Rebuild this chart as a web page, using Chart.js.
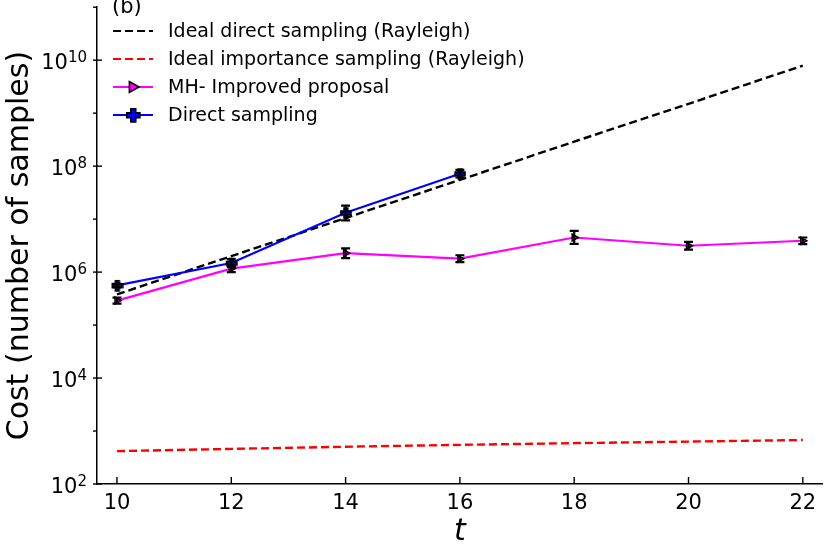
<!DOCTYPE html>
<html>
<head>
<meta charset="UTF-8">
<title>Cost vs t</title>
<script src="https://cdn.jsdelivr.net/npm/chart.js"></script>
<style>
    html, body { margin: 0; padding: 0; background: #fff; }
    canvas { display: block; }
</style>
</head>
<body>
<canvas id="chart" width="830" height="554"></canvas>
<script>
// valores
const tValues = [10, 12, 14, 16, 18, 20, 22];
const idealDirect = [3.8e5, 2.0e6, 1.05e7, 5.5e7, 2.9e8, 1.5e9, 7.9e9];
const idealImportance = [417, 460, 505, 548, 590, 632, 676];
const mhImproved = [2.9e5, 1.16e6, 2.28e6, 1.79e6, 4.5e6, 3.14e6, 3.9e6];
const mhLow = [2.55e5, 1.0e6, 1.84e6, 1.54e6, 3.4e6, 2.65e6, 3.36e6];
const mhHigh = [3.3e5, 1.35e6, 2.8e6, 2.08e6, 6.0e6, 3.72e6, 4.5e6];
const directT = [10, 12, 14, 16];
const directSampling = [5.6e5, 1.48e6, 1.32e7, 7.2e7];
const directLow = [5.2e5, 1.25e6, 9.5e6, 6.1e7];
const directHigh = [6.0e5, 1.75e6, 1.8e7, 8.5e7];
const xTicks = [10, 12, 14, 16, 18, 20, 22];
const yExponents = [2, 3, 4, 5, 6, 7, 8, 9, 10, 11];
const seriesNames = [
    'Ideal direct sampling (Rayleigh)',
    'Ideal importance sampling (Rayleigh)',
    'MH- Improved proposal',
    'Direct sampling'
];

Chart.defaults.font.family = "'DejaVu Sans', sans-serif";
Chart.defaults.color = '#000';

// marcador "P" de matplotlib (cruz rellena con borde negro)
function makePlus(size, lw) {
    const c = document.createElement('canvas');
    const s = size + lw * 2;
    c.width = s; c.height = s;
    const g = c.getContext('2d');
    const a = size * 0.18, h = size / 2, m = s / 2;
    g.beginPath();
    g.moveTo(m - a, m - h); g.lineTo(m + a, m - h); g.lineTo(m + a, m - a);
    g.lineTo(m + h, m - a); g.lineTo(m + h, m + a); g.lineTo(m + a, m + a);
    g.lineTo(m + a, m + h); g.lineTo(m - a, m + h); g.lineTo(m - a, m + a);
    g.lineTo(m - h, m + a); g.lineTo(m - h, m - a); g.lineTo(m - a, m - a);
    g.closePath();
    g.fillStyle = '#0000ff';
    g.fill();
    g.lineWidth = lw;
    g.strokeStyle = '#000';
    g.stroke();
    return c;
}
const plusSmall = makePlus(10, 1.8);
const plusLegend = makePlus(13, 1.8);

function triangleRight(ctx, x, y, r) {
    ctx.beginPath();
    ctx.moveTo(x + r, y);
    ctx.lineTo(x - r * 0.6, y - r * 0.9);
    ctx.lineTo(x - r * 0.6, y + r * 0.9);
    ctx.closePath();
    ctx.fillStyle = '#ff00ff';
    ctx.fill();
    ctx.lineWidth = 1.6;
    ctx.strokeStyle = '#000';
    ctx.stroke();
}

// barras de error, marcas de los ejes, etiquetas 10^n y leyenda
const extrasPlugin = {
    id: 'extras',
    afterDatasetsDraw(chart) {
        const ctx = chart.ctx;
        const xs = chart.scales.x, ys = chart.scales.y;
        ctx.save();
        ctx.strokeStyle = '#000';
        ctx.lineWidth = 2.2;
        const bars = [[tValues, mhLow, mhHigh], [directT, directLow, directHigh]];
        bars.forEach(([tt, lo, hi]) => {
            tt.forEach((t, i) => {
                const x = xs.getPixelForValue(t);
                const y1 = ys.getPixelForValue(lo[i]);
                const y2 = ys.getPixelForValue(hi[i]);
                ctx.beginPath();
                ctx.moveTo(x, y1); ctx.lineTo(x, y2);
                ctx.moveTo(x - 4.5, y1); ctx.lineTo(x + 4.5, y1);
                ctx.moveTo(x - 4.5, y2); ctx.lineTo(x + 4.5, y2);
                ctx.stroke();
            });
        });
        ctx.restore();
    },
    afterDraw(chart) {
        const ctx = chart.ctx;
        const xs = chart.scales.x, ys = chart.scales.y;
        const area = chart.chartArea;
        ctx.save();
        ctx.strokeStyle = '#000';
        ctx.lineWidth = 1.4;
        // marcas del eje x hacia dentro
        xTicks.forEach(v => {
            const x = xs.getPixelForValue(v);
            ctx.beginPath();
            ctx.moveTo(x, area.bottom); ctx.lineTo(x, area.bottom - 7);
            ctx.stroke();
        });
        // marcas del eje y
        yExponents.forEach(e => {
            const y = ys.getPixelForValue(Math.pow(10, e));
            ctx.beginPath();
            if (e % 2 === 0) {
                ctx.moveTo(area.left - 4, y); ctx.lineTo(area.left + 5, y);
            } else {
                ctx.moveTo(area.left - 4, y); ctx.lineTo(area.left, y);
            }
            ctx.stroke();
        });
        // etiquetas 10^n
        ctx.fillStyle = '#000';
        ctx.textBaseline = 'alphabetic';
        yExponents.filter(e => e % 2 === 0).forEach(e => {
            const y = ys.getPixelForValue(Math.pow(10, e));
            ctx.font = "21px 'DejaVu Sans'";
            const wb = ctx.measureText('10').width;
            ctx.font = "15px 'DejaVu Sans'";
            const we = ctx.measureText(String(e)).width;
            const x0 = area.left - 10 - wb - we;
            ctx.font = "21px 'DejaVu Sans'";
            ctx.fillText('10', x0, y + 9);
            ctx.font = "15px 'DejaVu Sans'";
            ctx.fillText(String(e), x0 + wb, y + 2);
        });
        // (b)
        ctx.font = "21px 'DejaVu Sans'";
        ctx.fillText('(b)', 112, 13);
        // leyenda
        const rows = [31, 59, 87, 115];
        const lx0 = 113, lx1 = 153, tx = 168;
        chart.data.datasets.forEach((ds, i) => {
            const y = rows[i];
            ctx.beginPath();
            ctx.setLineDash(ds.borderDash || []);
            ctx.strokeStyle = ds.borderColor;
            ctx.lineWidth = 2;
            ctx.moveTo(lx0, y); ctx.lineTo(lx1, y);
            ctx.stroke();
            ctx.setLineDash([]);
            if (ds.legendMarker === 'tri') triangleRight(ctx, 133, y, 6);
            if (ds.legendMarker === 'plus') ctx.drawImage(plusLegend, 133 - plusLegend.width / 2, y - plusLegend.height / 2);
            ctx.fillStyle = '#000';
            ctx.font = "19px 'DejaVu Sans'";
            ctx.textBaseline = 'middle';
            ctx.fillText(seriesNames[i], tx, y + 1);
        });
        ctx.restore();
    }
};

new Chart(document.getElementById('chart'), {
    type: 'line',
    data: {
        datasets: [
            {
                label: seriesNames[0],
                data: tValues.map((t, i) => ({ x: t, y: idealDirect[i] })),
                borderColor: '#000000',
                borderDash: [8, 4],
                borderWidth: 2.4,
                pointRadius: 0,
                order: 2
            },
            {
                label: seriesNames[1],
                data: tValues.map((t, i) => ({ x: t, y: idealImportance[i] })),
                borderColor: '#ff0000',
                borderDash: [8, 4],
                borderWidth: 2.4,
                pointRadius: 0,
                order: 3
            },
            {
                label: seriesNames[2],
                data: tValues.map((t, i) => ({ x: t, y: mhImproved[i] })),
                borderColor: '#ff00ff',
                borderWidth: 2.2,
                pointStyle: 'triangle',
                pointRotation: 90,
                pointRadius: 4,
                pointBackgroundColor: '#ff00ff',
                pointBorderColor: '#000',
                pointBorderWidth: 1.5,
                legendMarker: 'tri',
                order: 1
            },
            {
                label: seriesNames[3],
                data: directT.map((t, i) => ({ x: t, y: directSampling[i] })),
                borderColor: '#0000ff',
                borderWidth: 2.2,
                pointStyle: plusSmall,
                pointRadius: 5,
                legendMarker: 'plus',
                order: 0
            }
        ]
    },
    options: {
        responsive: false,
        animation: false,
        devicePixelRatio: 1,
        layout: { padding: { left: 0, right: 5, top: 5, bottom: 0 } },
        plugins: { legend: { display: false }, tooltip: { enabled: false } },
        scales: {
            x: {
                type: 'linear',
                min: 9.65,
                max: 22.35,
                grid: { display: false, drawTicks: false },
                border: { display: true, color: '#000', width: 1.5 },
                afterBuildTicks: s => { s.ticks = xTicks.map(v => ({ value: v })); },
                afterFit: s => { s.height = 70; },
                ticks: { font: { size: 21 }, padding: 7, maxRotation: 0 },
                title: { display: true, text: 't', font: { size: 30, style: 'italic' } }
            },
            y: {
                type: 'logarithmic',
                min: 1e2,
                max: 1e11,
                grid: { display: false, drawTicks: false },
                border: { display: true, color: '#000', width: 1.5 },
                ticks: { display: false },
                afterFit: s => { s.width = 97; },
                title: { display: true, text: 'Cost (number of samples)', font: { size: 30 }, padding: { top: 2, bottom: 4 } }
            }
        }
    },
    plugins: [extrasPlugin]
});
</script>
</body>
</html>
